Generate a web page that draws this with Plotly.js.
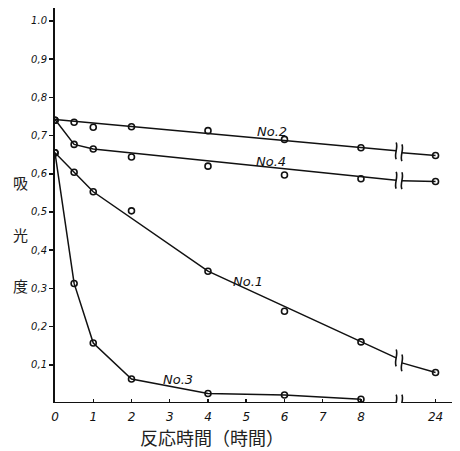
<!DOCTYPE html>
<html>
<head>
<meta charset="utf-8">
<script src="https://cdn.plot.ly/plotly-3.0.1.min.js"></script>
<style>html,body{margin:0;padding:0;background:#fff;}</style>
</head>
<body>
<div id="chart" style="width:460px;height:451px;"></div>
<script>
// ---- data ----
const hours = [0, 0.5, 1, 2, 4, 6, 8, 24];
const tickHours = [0, 1, 2, 3, 4, 5, 6, 7, 8, 24];
const tickLabels = ['0', '1', '2', '3', '4', '5', '6', '7', '8', '24'];
const yTickVals = [0.1, 0.2, 0.3, 0.4, 0.5, 0.6, 0.7, 0.8, 0.9, 1.0];
const yTickLabels = ['0,1', '0,2', '0,3', '0,4', '0,5', '0,6', '0,7', '0,8', '0,9', '1.0'];

const no1 = [0.655, 0.604, 0.553, 0.503, 0.345, 0.240, 0.160, 0.080];
const no2 = [0.740, 0.735, 0.722, 0.723, 0.713, 0.690, 0.668, 0.648];
const no3 = [0.655, 0.313, 0.157, 0.063, 0.025, 0.021, 0.010];
const no4 = [0.740, 0.677, 0.665, 0.644, 0.620, 0.597, 0.587, 0.580];

// drawn (fitted) lines: hours before the break, value at break, value after break
const fit1Hours = [0, 0.5, 1, 4, 8];
const fit1 = [0.655, 0.604, 0.553, 0.345, 0.160];
const fit1Break = [0.118, 0.105];
const fit2Hours = [0];
const fit2 = [0.742];
const fit2Break = [0.660, 0.655];
const fit4Hours = [0, 0.5, 1];
const fit4 = [0.742, 0.677, 0.665];
const fit4Break = [0.583, 0.582];

const names = ['No.1', 'No.2', 'No.3', 'No.4'];
const labelHours = [5.05, 5.68, 3.22, 5.65];
const labelVals = [0.319, 0.712, 0.062, 0.631];

// ---- axis mapping (broken axis: 24 h drawn just after the break) ----
const BREAK_L = 8.92, BREAK_R = 9.07, POS24 = 9.95, XMAX = 10.38;
const pos = h => (h <= 8 ? h : (h >= 24 ? POS24 : h));

const markerStyle = {symbol: 'circle-open', size: 6, color: '#111', line: {width: 1.6, color: '#111'}};
const lineStyle = {color: '#111', width: 1.5};

function fitTraces(hs, vals, brk, last) {
  return [
    {x: hs.map(pos).concat([BREAK_L]), y: vals.concat([brk[0]]), mode: 'lines', line: lineStyle, hoverinfo: 'skip'},
    {x: [BREAK_R, pos(24)], y: [brk[1], last], mode: 'lines', line: lineStyle, hoverinfo: 'skip'}
  ];
}

const traces = [];
traces.push(...fitTraces(fit1Hours, fit1, fit1Break, no1[7]));
traces.push(...fitTraces(fit2Hours, fit2, fit2Break, no2[7]));
traces.push(...fitTraces(fit4Hours, fit4, fit4Break, no4[7]));
// No.3 line through its points
traces.push({x: hours.slice(0, 7).map(pos), y: no3, mode: 'lines', line: lineStyle});
// markers
[no1, no2, no3, no4].forEach(s => {
  traces.push({x: hours.slice(0, s.length).map(pos), y: s, mode: 'markers', marker: markerStyle});
});

// break squiggles
function squiggle(x, y) {
  const h = 0.022, d = 0.06;
  return {type: 'path', xref: 'x', yref: 'y',
    path: `M ${x},${y + h} C ${x + d},${y + h * 0.4} ${x - d},${y - h * 0.4} ${x},${y - h}`,
    line: {color: '#111', width: 1.6}};
}
const shapes = [];
[[fit1Break[0], fit1Break[1]], [fit2Break[0], fit2Break[1]], [fit4Break[0], fit4Break[1]], [0, 0]].forEach(b => {
  shapes.push(squiggle(BREAK_L, b[0]));
  shapes.push(squiggle(BREAK_R, b[1]));
});
// x axis line with gap at break
shapes.push({type: 'line', xref: 'x', yref: 'y', x0: 0, x1: BREAK_L, y0: 0, y1: 0, line: {color: '#111', width: 2}});
shapes.push({type: 'line', xref: 'x', yref: 'y', x0: BREAK_R, x1: XMAX, y0: 0, y1: 0, line: {color: '#111', width: 2}});

const hand = {family: 'DejaVu Sans', size: 12, color: '#111', style: 'italic'};
const annotations = names.map((n, i) => ({
  x: labelHours[i], y: labelVals[i], xref: 'x', yref: 'y', text: n, showarrow: false,
  font: {family: 'DejaVu Sans', size: 13, color: '#111', style: 'italic'}
}));
annotations.push({x: 212, y: 437, xref: 'paper', yref: 'paper', text: '反応時間（時間）', showarrow: false,
  font: {family: 'Noto Sans CJK JP', size: 18, color: '#222'}});
['吸', '光', '度'].forEach((c, i) => {
  annotations.push({x: 20, y: [183, 235, 285][i], text: c, showarrow: false,
    font: {family: 'Noto Sans CJK JP', size: 15, color: '#222'}});
});
// convert pixel-placed annotations to paper coords
const W = 460, H = 451, ML = 55, MR = 8, MT = 8, MB = 48;
annotations.forEach(a => {
  if (a.xref === 'x') return;
  a.x = (a.x - ML) / (W - ML - MR);
  a.y = 1 - (a.y - MT) / (H - MT - MB);
  a.xref = 'paper'; a.yref = 'paper';
  a.xanchor = 'center'; a.yanchor = 'middle';
});

const layout = {
  width: W, height: H,
  margin: {l: ML, r: MR, t: MT, b: MB},
  paper_bgcolor: '#fff', plot_bgcolor: '#fff',
  showlegend: false,
  xaxis: {
    range: [0, XMAX], showgrid: false, zeroline: false, showline: false,
    tickvals: tickHours.map(pos), ticktext: tickLabels,
    ticks: 'inside', ticklen: 4, tickwidth: 1.5, tickcolor: '#111',
    ticklabelstandoff: 5,
    tickfont: hand
  },
  yaxis: {
    range: [0, 1.034], showgrid: false, zeroline: false,
    showline: true, linecolor: '#111', linewidth: 2,
    tickvals: yTickVals, ticktext: yTickLabels,
    ticks: 'outside', ticklen: 4, tickwidth: 1.5, tickcolor: '#111',
    tickfont: {family: 'DejaVu Sans', size: 10, color: '#111', style: 'italic'}
  },
  shapes: shapes,
  annotations: annotations
};

Plotly.newPlot('chart', traces, layout, {displayModeBar: false, staticPlot: true});
</script>
</body>
</html>
